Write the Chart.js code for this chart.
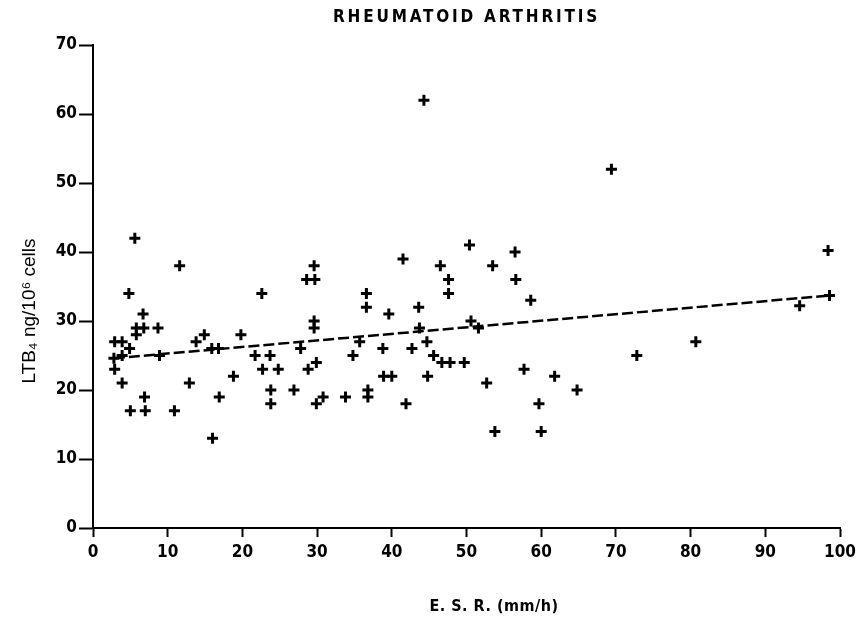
<!DOCTYPE html>
<html>
<head>
<meta charset="utf-8">
<script src="https://cdn.jsdelivr.net/npm/chart.js@4"></script>
<style>
  html, body { margin: 0; padding: 0; background: #fff; }
  #wrap { width: 868px; height: 624px; }
</style>
</head>
<body>
<div id="wrap"><canvas id="chart" width="868" height="624"></canvas></div>
<script>
// patient values: E.S.R. (mm/h) vs LTB4 (ng/10^6 cells)
const esr = [
  5.6, 11.6, 4.8, 22.6, 6.7, 5.8, 6.8, 8.7, 5.8, 2.9, 3.9, 4.9, 2.8, 3.9, 2.9, 3.9, 6.9, 5.0, 7.0, 10.9,
  16.0, 8.9, 13.8, 14.9, 19.8, 15.9, 16.8, 12.9, 18.8, 16.9, 21.7, 23.7, 22.7, 24.8, 23.8, 23.8,
  50.4, 29.6, 28.6, 29.7, 41.5, 46.5, 47.6, 47.6, 36.6, 36.6, 39.6, 43.6, 29.6, 29.6, 43.7, 50.6, 51.6,
  27.8, 35.7, 29.9, 28.8, 34.8, 38.8, 42.7, 44.7, 45.6, 46.7, 47.8, 49.7, 38.9, 40.0, 44.8, 26.9, 29.9,
  30.8, 33.8, 36.8, 36.8, 41.9,
  69.4, 56.5, 53.5, 56.6, 58.6, 72.8, 57.7, 52.7, 61.8, 64.8, 59.7, 53.8, 60.0,
  98.4, 98.6, 94.6, 80.7, 44.3
];
const ltb4 = [
  42, 38, 34, 34, 31, 29, 29, 29, 28, 27, 27, 26, 24.6, 25, 23, 21, 19, 17, 17, 17,
  13, 25, 27, 28, 28, 26, 26, 21, 22, 19, 25, 25, 23, 23, 20, 18,
  41, 38, 36, 36, 39, 38, 36, 34, 34, 32, 31, 32, 30, 29, 29, 30, 29,
  26, 27, 24, 23, 25, 26, 26, 27, 25, 24, 24, 24, 22, 22, 22, 20, 18,
  19, 19, 20, 19, 18,
  52, 40, 38, 36, 33, 25, 23, 21, 22, 20, 18, 14, 14,
  40.2, 33.7, 32.2, 27, 62
];

// fitted line ends
const fitX = [2.8, 98.6];
const fitY = [24.6, 33.7];

const xTicks = [0, 10, 20, 30, 40, 50, 60, 70, 80, 90, 100];
const yTicks = [0, 10, 20, 30, 40, 50, 60, 70];

const tickFont = { family: "DejaVu Sans Condensed", weight: "bold", size: 17 };

// titles drawn by hand so they sit where the original put them
const titles = {
  id: "titles",
  afterDraw(chart) {
    const { ctx, chartArea } = chart;
    ctx.save();
    ctx.fillStyle = "#000";
    ctx.textAlign = "center";
    ctx.textBaseline = "middle";

    ctx.font = "bold 17px 'DejaVu Sans Condensed'";
    ctx.letterSpacing = "2.8px";
    ctx.fillText("RHEUMATOID ARTHRITIS", (chartArea.left + chartArea.right) / 2, 18);

    ctx.font = "bold 16px 'DejaVu Sans Condensed'";
    ctx.letterSpacing = "0.5px";
    ctx.fillText("E. S. R. (mm/h)", 494, 607);

    ctx.letterSpacing = "0px";
    ctx.font = "19px 'Liberation Sans'";
    ctx.translate(30, 311);
    ctx.rotate(-Math.PI / 2);
    ctx.fillText("LTB₄ ng/10⁶ cells", 0, 0);
    ctx.restore();
  },
};

new Chart(document.getElementById("chart"), {
  type: "scatter",
  data: {
    datasets: [
      {
        label: "patients",
        data: esr.map((x, i) => ({ x, y: ltb4[i] })),
        pointStyle: "cross",
        radius: 5.5,
        borderWidth: 3,
        borderColor: "#000",
        backgroundColor: "#000",
      },
      {
        type: "line",
        label: "fit",
        data: fitX.map((x, i) => ({ x, y: fitY[i] })),
        borderColor: "#000",
        borderWidth: 2.5,
        borderDash: [11, 4],
        pointRadius: 0,
        fill: false,
      },
    ],
  },
  options: {
    responsive: false,
    animation: false,
    layout: { padding: { top: 45, right: 28, bottom: 0, left: 0 } },
    plugins: { legend: { display: false }, tooltip: { enabled: false } },
    scales: {
      x: {
        type: "linear",
        min: 0,
        max: 100,
        afterBuildTicks: (s) => { s.ticks = xTicks.map((v) => ({ value: v })); },
        afterFit: (s) => { s.height = 96; },
        ticks: { color: "#000", font: tickFont, padding: 5 },
        grid: { drawOnChartArea: false, tickLength: 9, tickColor: "#000", tickWidth: 2 },
        border: { display: true, color: "#000", width: 2 },
      },
      y: {
        min: 0,
        max: 70,
        afterBuildTicks: (s) => { s.ticks = yTicks.map((v) => ({ value: v })); },
        afterFit: (s) => { s.width = 93; },
        ticks: { color: "#000", font: tickFont, padding: 2 },
        grid: { drawOnChartArea: false, tickLength: 14, tickColor: "#000", tickWidth: 2 },
        border: { display: true, color: "#000", width: 2 },
      },
    },
  },
  plugins: [titles],
});
</script>
</body>
</html>
